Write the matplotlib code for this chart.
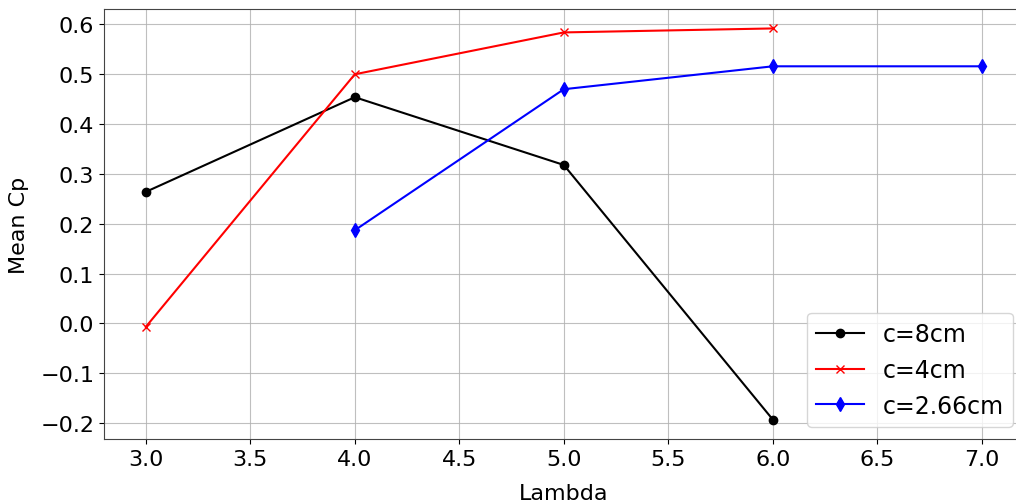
import matplotlib
matplotlib.use("Agg")
import matplotlib.pyplot as plt

lam_8 = [3.0, 4.0, 5.0, 6.0]
cp_8 = [0.264, 0.454, 0.318, -0.193]
lam_4 = [3.0, 4.0, 5.0, 6.0]
cp_4 = [-0.007, 0.500, 0.584, 0.592]
lam_266 = [4.0, 5.0, 6.0, 7.0]
cp_266 = [0.187, 0.470, 0.516, 0.516]
labels = ["c=8cm", "c=4cm", "c=2.66cm"]

plt.rcParams['font.size'] = 16
fig = plt.figure(figsize=(10.16, 5.02), dpi=100)
ax = fig.add_axes([104/1016, 62/502, 919.6/1016, 430/502])
ax.plot(lam_8, cp_8, color='black', marker='o', markersize=6, label=labels[0])
ax.plot(lam_4, cp_4, color='red', marker='x', markersize=6, label=labels[1])
ax.plot(lam_266, cp_266, color='blue', marker='d', markersize=7, label=labels[2])
ax.set_xlim(2.8, 7.2)
ax.set_ylim(-0.232, 0.631)
ax.grid(True, color='#b0b0b0', linewidth=0.8, alpha=0.8)
for s in ax.spines.values():
    s.set_color('#444444')
ax.set_xlabel("Lambda", labelpad=10)
ax.set_ylabel("Mean Cp", labelpad=8)
ax.legend(loc='lower right', bbox_to_anchor=(1.0013, 0.0), fontsize=17)
fig.savefig("out.png", dpi=100)
